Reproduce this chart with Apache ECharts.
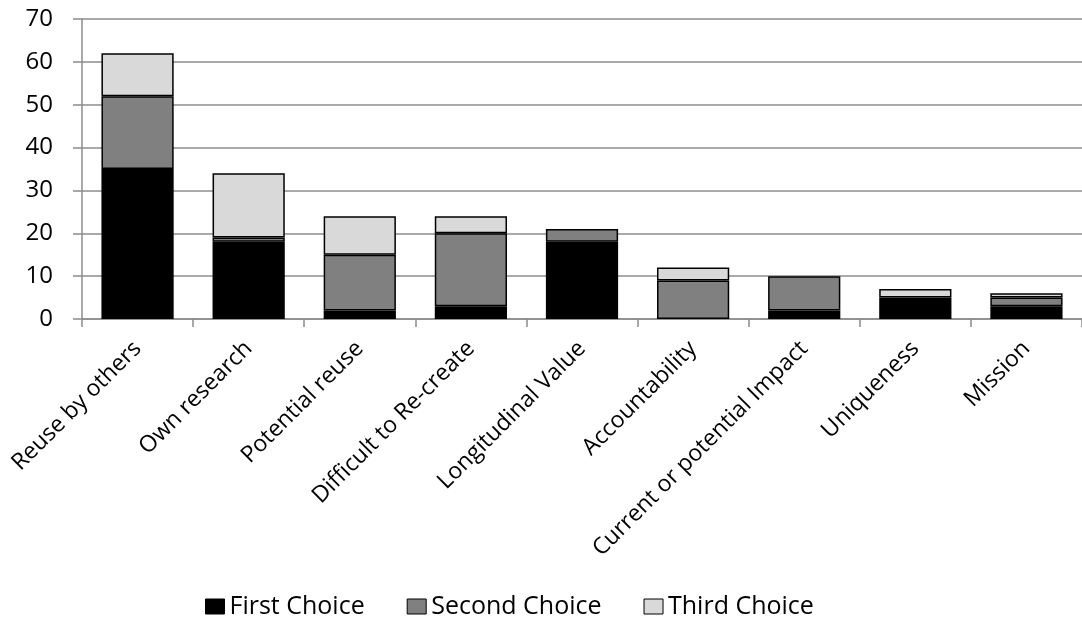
<!DOCTYPE html>
<html>
<head>
<meta charset="utf-8">
<script src="https://cdn.jsdelivr.net/npm/echarts@6/dist/echarts.min.js"></script>
<style>
  html, body { margin: 0; padding: 0; background: #fff; }
  #chart { width: 1082px; height: 617px; }
</style>
</head>
<body>
<div id="chart"></div>
<script>
// Reasons for selecting data for preservation, by choice rank
const categories = [
  'Reuse by others', 'Own research', 'Potential reuse', 'Difficult to Re-create',
  'Longitudinal Value', 'Accountability', 'Current or potential Impact', 'Uniqueness', 'Mission'
];
const firstChoice  = [35, 18, 2, 3, 18, 0, 2, 5, 3];
const secondChoice = [17, 1, 13, 17, 3, 9, 8, 0, 2];
const thirdChoice  = [10, 15, 9, 4, 0, 3, 0, 2, 1];
const yTicks = { min: 0, max: 70, interval: 10 };

const font = '"Open Sans", "Liberation Sans", sans-serif';

// Empty segments are skipped so no zero-height outline is drawn
function barSeries(name, data, color) {
  return {
    name: name,
    type: 'bar',
    stack: 'total',
    data: data.map(v => (v === 0 ? null : v)),
    barCategoryGap: '35%',
    itemStyle: { color: color, borderColor: '#000', borderWidth: 1.5 },
    emphasis: { disabled: true }
  };
}

const chart = echarts.init(document.getElementById('chart'), null, { renderer: 'canvas' });
chart.setOption({
  animation: false,
  textStyle: { fontFamily: font },
  grid: { left: 82, right: -9, top: 19, bottom: 298, containLabel: false },
  legend: {
    top: 589,
    left: 200,
    itemWidth: 19,
    itemHeight: 15,
    itemGap: 42,
    icon: 'rect',
    itemStyle: { borderColor: '#000', borderWidth: 1 },
    textStyle: { fontSize: 25, color: '#000', fontFamily: font },
    data: ['First Choice', 'Second Choice', 'Third Choice']
  },
  xAxis: {
    type: 'category',
    data: categories,
    axisLine: { lineStyle: { color: '#8c8c8c', width: 1.5 } },
    axisTick: { show: true, length: 8, interval: 0, lineStyle: { color: '#8c8c8c', width: 1.5 } },
    axisLabel: {
      interval: 0,
      rotate: 45,
      fontSize: 23,
      color: '#000',
      margin: 26,
      fontFamily: font
    }
  },
  yAxis: {
    type: 'value',
    min: yTicks.min,
    max: yTicks.max,
    interval: yTicks.interval,
    axisLine: { show: true, lineStyle: { color: '#8c8c8c', width: 1.5 } },
    axisTick: { show: true, length: 9, lineStyle: { color: '#8c8c8c', width: 1.5 } },
    splitLine: { show: true, lineStyle: { color: '#8c8c8c', width: 1.5 } },
    axisLabel: { fontSize: 24, color: '#000', margin: 29, fontFamily: font }
  },
  series: [
    barSeries('First Choice', firstChoice, '#000000'),
    barSeries('Second Choice', secondChoice, '#808080'),
    barSeries('Third Choice', thirdChoice, '#d9d9d9')
  ]
});
</script>
</body>
</html>
